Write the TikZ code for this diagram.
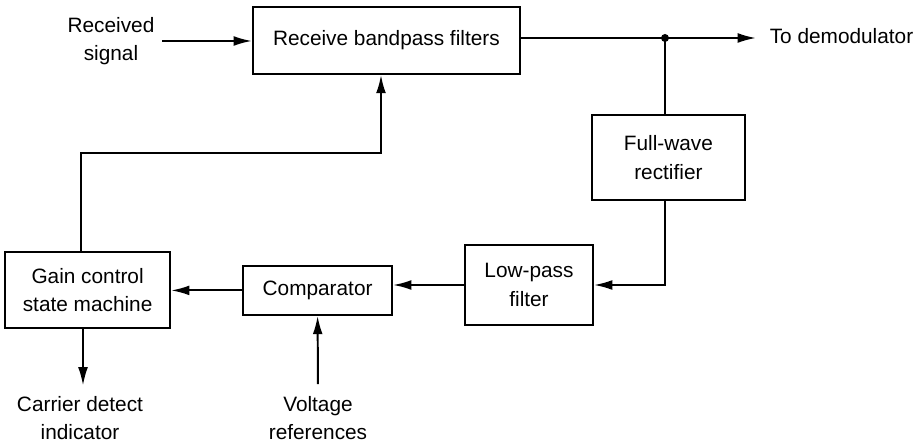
\documentclass[tikz,border=0pt]{standalone}
\usepackage{fontspec}
\setmainfont{Liberation Sans}
\usepackage{tikz}
\usetikzlibrary{arrows.meta, calc}

\begin{document}
\begin{tikzpicture}[>={Latex[length=13pt,width=7pt]},line width=1.4pt,
  font=\fontsize{14.8}{20}\selectfont,
  blk/.style={draw,align=center,inner sep=0pt},
  lbl/.style={align=center,inner sep=2pt}]
\useasboundingbox (0,0) rectangle (23,-11.175);

% blocks
\node[blk,minimum width=6.675cm,minimum height=1.675cm] (rbf) at (9.66,-1.01) {Receive bandpass filters};
\node[blk,minimum width=3.825cm,minimum height=2.125cm] (fwr) at (16.71,-3.94) {Full-wave\\rectifier};
\node[blk,minimum width=3.2cm,minimum height=2cm] (lpf) at (13.225,-7.125) {Low-pass\\filter};
\node[blk,minimum width=3.725cm,minimum height=1.225cm] (comp) at (7.94,-7.26) {Comparator};
\node[blk,minimum width=4.125cm,minimum height=1.9cm] (gcsm) at (2.19,-7.25) {Gain control\\state machine};

% labels
\node[lbl] (rx) at (2.775,-1.025) {Received\\signal};
\node[lbl,anchor=west] (demod) at (19.15,-0.9) {To demodulator};
\node[lbl] (vref) at (7.95,-10.45) {Voltage\\references};
\node[lbl] (cd) at (2.0,-10.45) {Carrier detect\\indicator};

\coordinate (rxend) at (4.05,-1.025);
\coordinate (tap) at (16.625,-0.95);
\coordinate (out) at (18.9,-0.95);
\coordinate (fb) at (9.525,-3.825);
\coordinate (fbstart) at ($(gcsm.north)+(-0.165,0)$);
\coordinate (cdstart) at ($(gcsm.south)+(-0.115,0)$);

% signal path
\draw[->] (rxend) -- (rbf.west |- rxend);
\draw (rbf.east |- tap) -- (tap);
\draw[->] (tap) -- (out);
\fill (tap) circle (0.1);
\draw (tap) -- (tap |- fwr.north);
\draw[->] (fwr.south -| tap) |- (lpf.east);
\draw[->] (lpf.west) -- (lpf.west -| comp.east);
\draw[->] (comp.west) -- (comp.west -| gcsm.east);
\draw[->] (fbstart) |- (fb) -- (fb |- rbf.south);
\draw[->,shorten <=6pt] (vref.north) -- (comp.south);
\draw[->,shorten >=5pt] (cdstart) -- (cdstart |- cd.north);
\end{tikzpicture}
\end{document}
